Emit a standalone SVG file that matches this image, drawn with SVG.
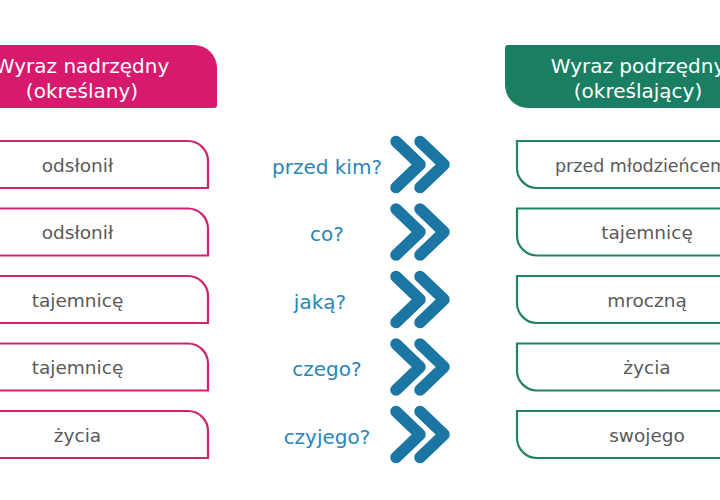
<svg xmlns="http://www.w3.org/2000/svg" xmlns:xlink="http://www.w3.org/1999/xlink" width="720" height="500" viewBox="0 0 720 500">
<style>
.hdr{font-family:"DejaVu Sans","Verdana",sans-serif;font-size:20px;fill:#ffffff;text-anchor:middle}
.item{font-family:"DejaVu Sans","Verdana",sans-serif;font-size:18.5px;fill:#5a5a5a;text-anchor:middle}
.q{font-family:"DejaVu Sans","Verdana",sans-serif;font-size:20px;fill:#2a86b6;text-anchor:middle}
.lbox{fill:#ffffff;stroke:#cf2470;stroke-width:2.2}
.rbox{fill:#ffffff;stroke:#23845f;stroke-width:2.2}
.chev{fill:none;stroke:#1b76a3;stroke-width:11.5;stroke-linecap:round;stroke-linejoin:round}
</style>
<defs>
<path id="lshape" d="M -10 0 H 188 A 20 20 0 0 1 208 20 V 47 H -10 Z"/>
<path id="rshape" d="M 517 0 H 730 V 47 H 537 A 20 20 0 0 1 517 27 Z"/>
<path id="chevs" d="M 396 -23 L 420 0 L 396 23 M 420 -23 L 444 0 L 420 23"/>
</defs>
<rect width="720" height="500" fill="#ffffff"/>

<g id="header-left">
<path d="M -10 45 H 194 A 23 23 0 0 1 217 68 V 105 Q 217 108 214 108 H -10 Z" fill="#d71a6d"/>
<text class="hdr" x="82" y="73">Wyraz nadrzędny</text>
<text class="hdr" x="82" y="98">(określany)</text>
</g>
<g id="header-right">
<path d="M 505 48 Q 505 45 508 45 H 730 V 108 H 528 A 23 23 0 0 1 505 85 Z" fill="#1a7f62"/>
<text class="hdr" x="638" y="73">Wyraz podrzędny</text>
<text class="hdr" x="638" y="98">(określający)</text>
</g>

<g id="left-1"><use xlink:href="#lshape" class="lbox" y="141"/><text class="item" x="77.5" y="171.5">odsłonił</text></g>
<g id="left-2"><use xlink:href="#lshape" class="lbox" y="208.5"/><text class="item" x="77.5" y="239">odsłonił</text></g>
<g id="left-3"><use xlink:href="#lshape" class="lbox" y="276"/><text class="item" x="77.5" y="306.5">tajemnicę</text></g>
<g id="left-4"><use xlink:href="#lshape" class="lbox" y="343.5"/><text class="item" x="77.5" y="374">tajemnicę</text></g>
<g id="left-5"><use xlink:href="#lshape" class="lbox" y="411"/><text class="item" x="77.5" y="441.5">życia</text></g>

<g id="right-1"><use xlink:href="#rshape" class="rbox" y="141"/><text class="item" x="641" y="171.5" style="font-size:17.5px">przed młodzieńcem</text></g>
<g id="right-2"><use xlink:href="#rshape" class="rbox" y="208.5"/><text class="item" x="647" y="239">tajemnicę</text></g>
<g id="right-3"><use xlink:href="#rshape" class="rbox" y="276"/><text class="item" x="647" y="306.5">mroczną</text></g>
<g id="right-4"><use xlink:href="#rshape" class="rbox" y="343.5"/><text class="item" x="647" y="374">życia</text></g>
<g id="right-5"><use xlink:href="#rshape" class="rbox" y="411"/><text class="item" x="647" y="441.5">swojego</text></g>

<g id="connectors">
<use xlink:href="#chevs" class="chev" y="164.5"/>
<use xlink:href="#chevs" class="chev" y="232"/>
<use xlink:href="#chevs" class="chev" y="299.5"/>
<use xlink:href="#chevs" class="chev" y="367"/>
<use xlink:href="#chevs" class="chev" y="434.5"/>
<text class="q" x="327" y="174">przed kim?</text>
<text class="q" x="327" y="241">co?</text>
<text class="q" x="320" y="308.5">jaką?</text>
<text class="q" x="327" y="376">czego?</text>
<text class="q" x="327" y="443.5">czyjego?</text>
</g>
</svg>
